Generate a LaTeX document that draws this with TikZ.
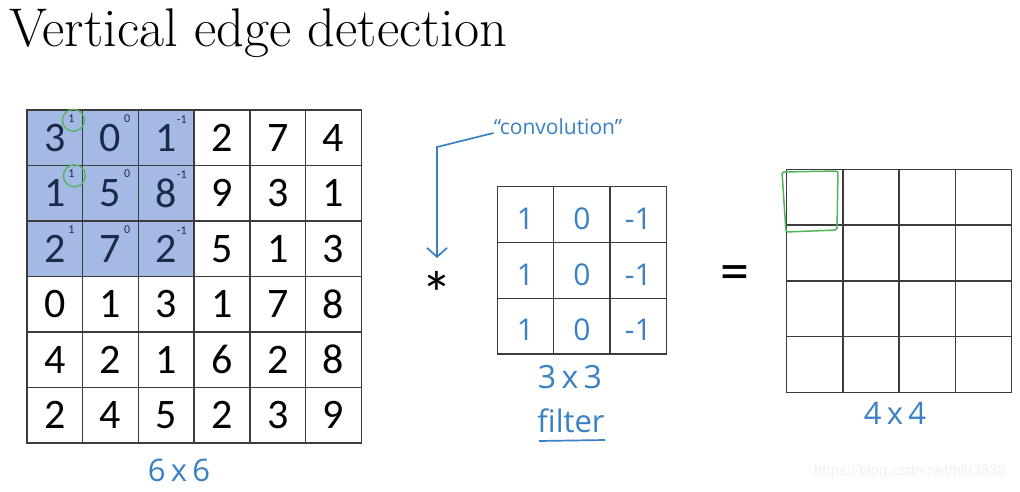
\documentclass[tikz,border=0pt]{standalone}
\usepackage{fontspec}
\newfontfamily\numfont{Carlito}
\newfontfamily\handfont{Open Sans}
\newfontfamily\wmfont{Liberation Sans}
\usetikzlibrary{arrows.meta}
\definecolor{cellblue}{RGB}{164,186,228}
\definecolor{navy}{RGB}{28,42,72}
\definecolor{gridgray}{RGB}{60,60,60}
\definecolor{handblue}{RGB}{58,128,196}
\definecolor{markgreen}{RGB}{84,180,90}
\definecolor{wmgray}{RGB}{240,240,240}
\tikzset{
  cell/.style={draw=gridgray, line width=1.4pt, minimum width=55.7pt, minimum height=55.5pt, inner sep=0pt, font=\numfont\fontsize{42}{42}\selectfont},
  fcell/.style={draw=gridgray, line width=1.4pt, minimum width=56.4pt, minimum height=55.8pt, inner sep=0pt},
  ocell/.style={draw=gridgray, line width=1.4pt, minimum width=56.25pt, minimum height=55.75pt, inner sep=0pt},
  supnum/.style={inner sep=0pt, text=navy, font=\numfont\fontsize{12}{12}\selectfont},
  hand/.style={text=handblue, inner sep=0pt, font=\handfont\fontsize{#1}{#1}\selectfont},
  hand/.default=26,
  ring/.style={draw=markgreen, line width=1.3pt, circle, minimum size=22pt, inner sep=0pt},
}
\begin{document}
\begin{tikzpicture}[x=1pt,y=-1pt]
\useasboundingbox (0,0) rectangle (1020,492);
\fill[white] (0,0) rectangle (1020,492);
% title
\node[anchor=base west, inner sep=0pt, font=\fontsize{54.5}{54.5}\selectfont] (title) at (9,47) {Vertical edge detection};
% blue region
\fill[cellblue] (27,110) rectangle (194.1,276.5);
% main grid
\foreach \rowvals [count=\r from 0] in {{3,0,1,2,7,4},{1,5,8,9,3,1},{2,7,2,5,1,3},{0,1,3,1,7,8},{4,2,1,6,2,8},{2,4,5,2,3,9}} {
  \foreach \v [count=\c from 0] in \rowvals {
    \pgfmathtruncatemacro\inb{(\c<3)&&(\r<3)}
    \ifnum\inb=1 \def\tc{navy}\else\def\tc{black}\fi
    \node[cell, text=\tc] (m\r\c) at ({54.85+55.7*\c},{137.75+55.5*\r}) {\v};
  }
}
% superscripts
\foreach \r in {0,1,2} {
  \node[supnum] (s\r0) at ([xshift=-12pt,yshift=-9pt]m\r0.north east) {1};
  \node[supnum] (s\r1) at ([xshift=-12pt,yshift=-9pt]m\r1.north east) {0};
  \node[supnum] (s\r2) at ([xshift=-13pt,yshift=-10pt]m\r2.north east) {-1};
}
\node[ring] (ring0) at ([xshift=2pt,yshift=-2pt]s00) {};
\node[ring] (ring1) at ([xshift=3pt,yshift=-2pt]s10) {};
\node[hand=31] (lab66) at (179,470) {6\,x\,6};
% convolution operator
\node[inner sep=0pt, font=\numfont\fontsize{62}{62}\selectfont] (star) at (437,293) {*};
\node[hand=21] (conv) at (558,127) {“convolution”};
\draw[handblue, line width=1.7pt, -{Straight Barb[length=9pt,width=20pt]}] ([yshift=-6pt]conv.west) -- (437,147) -- (437,258);
% filter
\foreach \rowvals [count=\r from 0] in {{1,0,-1},{1,0,-1},{1,0,-1}} {
  \foreach \v [count=\c from 0] in \rowvals {
    \node[fcell] (f\r\c) at ({525.5+56.4*\c},{214.6+55.8*\r}) {};
    \node[hand=30] (fv\r\c) at ([yshift=-4pt]f\r\c.center) {\v};
  }
}
\node[hand=32] (lab33) at (570,377) {3\,x\,3};
\node[hand=31] (labf) at (571,421) {filter};
\draw[handblue, line width=1.7pt] (539,441) -- (605,440);
% equals
\node[inner sep=0pt, font=\numfont\fontsize{58}{58}\selectfont] (eq) at (735,278) {=};
% output grid
\foreach \r in {0,1,2,3} {
  \foreach \c in {0,1,2,3} {
    \node[ocell] (o\r\c) at ({814.8+56.25*\c},{197.2+55.75*\r}) {};
  }
}
\draw[markgreen, line width=1.5pt, rounded corners=2pt] (782,172) -- (838,171) -- (837,230) -- (786,232) -- cycle;
\node[hand=31] (lab44) at (895,413) {4\,x\,4};
% watermark
\node[inner sep=0pt, text=wmgray, font=\wmfont\fontsize{15}{15}\selectfont] (wm) at (910,472) {https://blog.csdn.net/hltt3838};
\end{tikzpicture}
\end{document}
